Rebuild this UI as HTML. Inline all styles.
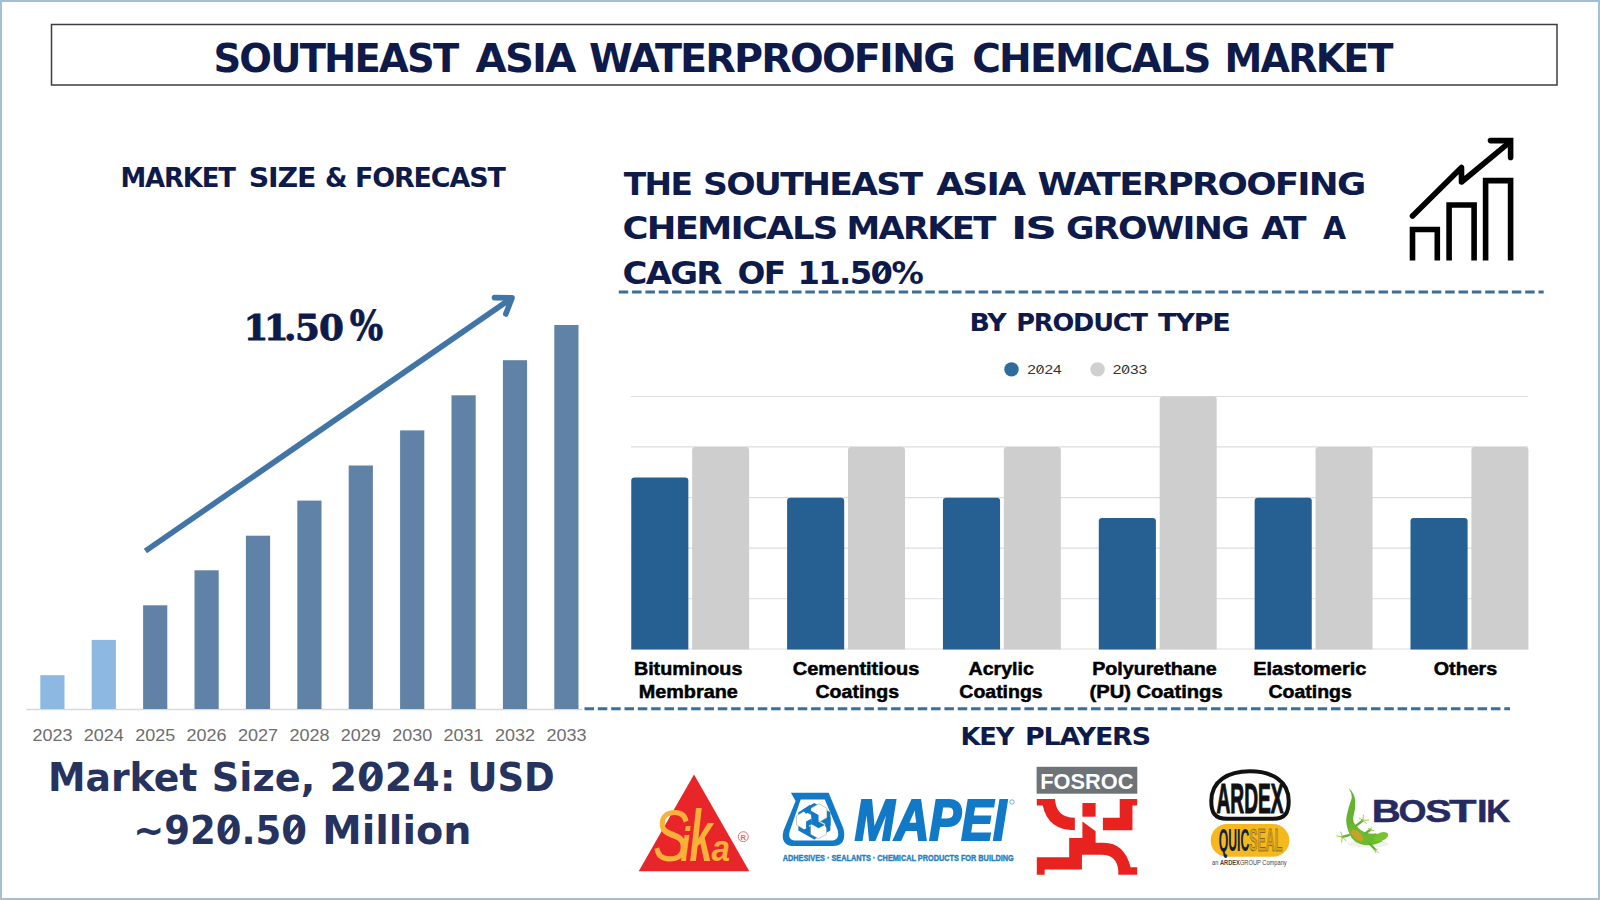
<!DOCTYPE html>
<html lang="en"><head><meta charset="utf-8"><title>Southeast Asia Waterproofing Chemicals Market</title>
<style>
html,body{margin:0;padding:0;background:#fff;}
body{width:1600px;height:900px;overflow:hidden;position:relative;font-family:"Liberation Sans",sans-serif;}
svg{display:block;position:absolute;left:0;top:0;}
</style></head><body>
<svg width="1600" height="900" viewBox="0 0 1600 900">
<rect x="0" y="0" width="1600" height="900" fill="#ffffff"/>
<rect x="1" y="1" width="1598" height="898" fill="none" stroke="#a6bfd8" stroke-width="2"/>

<rect x="51.5" y="24.5" width="1505.5" height="60.5" fill="#fff" stroke="#3a3d45" stroke-width="1.5"/>
<g font-family='"DejaVu Sans", "Liberation Sans", sans-serif' font-size="39" font-weight="bold" fill="#0e1a4a" letter-spacing="-1.8">
<text x="213.4" y="71.6" textLength="244.0" lengthAdjust="spacingAndGlyphs">SOUTHEAST</text>
<text x="475.6" y="71.6" textLength="98.83" lengthAdjust="spacingAndGlyphs">ASIA</text>
<text x="589.0" y="71.6" textLength="365.01" lengthAdjust="spacingAndGlyphs">WATERPROOFING</text>
<text x="972.2" y="71.6" textLength="237.32" lengthAdjust="spacingAndGlyphs">CHEMICALS</text>
<text x="1224.5" y="71.6" textLength="167.22" lengthAdjust="spacingAndGlyphs">MARKET</text>
</g>
<g font-family='"DejaVu Sans", "Liberation Sans", sans-serif' font-size="25.9" font-weight="bold" fill="#0e1a4a" letter-spacing="-1.1">
<text x="120.4" y="187.2" textLength="114.42" lengthAdjust="spacingAndGlyphs">MARKET</text>
<text x="248.8" y="187.2" textLength="66.36" lengthAdjust="spacingAndGlyphs">SIZE</text>
<text x="325.0" y="187.2" textLength="21.34" lengthAdjust="spacingAndGlyphs">&amp;</text>
<text x="355.0" y="187.2" textLength="149.61" lengthAdjust="spacingAndGlyphs">FORECAST</text>
</g>
<text y="339.8" font-family='"DejaVu Serif", "Liberation Serif", serif' font-size="35.8" font-weight="bold" fill="#0e1a4a" stroke="#0e1a4a" stroke-width="0.8"><tspan x="243.4">1</tspan><tspan x="263.7">1</tspan><tspan x="284.1">.</tspan><tspan x="294.9">5</tspan><tspan x="319">0</tspan></text><text x="349.8" y="339.8" font-family='"DejaVu Serif", "Liberation Serif", serif' font-size="41" font-weight="bold" fill="#0e1a4a" stroke="#0e1a4a" stroke-width="0.8" textLength="33.4" lengthAdjust="spacingAndGlyphs">%</text>
<line x1="26.5" y1="709.5" x2="582" y2="709.5" stroke="#d9d9d9" stroke-width="1.5"/>
<rect x="40.3" y="675.2" width="24.2" height="33.8" fill="#8cb8e2"/>
<text x="32.4" y="740.5" font-family='"Liberation Sans", sans-serif' font-size="17" fill="#6e6e6e" textLength="40" lengthAdjust="spacingAndGlyphs">2023</text>
<rect x="91.7" y="639.9" width="24.2" height="69.1" fill="#8cb8e2"/>
<text x="83.8" y="740.5" font-family='"Liberation Sans", sans-serif' font-size="17" fill="#6e6e6e" textLength="40" lengthAdjust="spacingAndGlyphs">2024</text>
<rect x="143.1" y="605.3" width="24.2" height="103.7" fill="#6082a6"/>
<text x="135.2" y="740.5" font-family='"Liberation Sans", sans-serif' font-size="17" fill="#6e6e6e" textLength="40" lengthAdjust="spacingAndGlyphs">2025</text>
<rect x="194.5" y="570.3" width="24.2" height="138.7" fill="#6082a6"/>
<text x="186.6" y="740.5" font-family='"Liberation Sans", sans-serif' font-size="17" fill="#6e6e6e" textLength="40" lengthAdjust="spacingAndGlyphs">2026</text>
<rect x="245.9" y="535.7" width="24.2" height="173.3" fill="#6082a6"/>
<text x="238.0" y="740.5" font-family='"Liberation Sans", sans-serif' font-size="17" fill="#6e6e6e" textLength="40" lengthAdjust="spacingAndGlyphs">2027</text>
<rect x="297.3" y="500.6" width="24.2" height="208.4" fill="#6082a6"/>
<text x="289.4" y="740.5" font-family='"Liberation Sans", sans-serif' font-size="17" fill="#6e6e6e" textLength="40" lengthAdjust="spacingAndGlyphs">2028</text>
<rect x="348.7" y="465.5" width="24.2" height="243.5" fill="#6082a6"/>
<text x="340.8" y="740.5" font-family='"Liberation Sans", sans-serif' font-size="17" fill="#6e6e6e" textLength="40" lengthAdjust="spacingAndGlyphs">2029</text>
<rect x="400.1" y="430.4" width="24.2" height="278.6" fill="#6082a6"/>
<text x="392.2" y="740.5" font-family='"Liberation Sans", sans-serif' font-size="17" fill="#6e6e6e" textLength="40" lengthAdjust="spacingAndGlyphs">2030</text>
<rect x="451.5" y="395.3" width="24.2" height="313.7" fill="#6082a6"/>
<text x="443.6" y="740.5" font-family='"Liberation Sans", sans-serif' font-size="17" fill="#6e6e6e" textLength="40" lengthAdjust="spacingAndGlyphs">2031</text>
<rect x="502.9" y="360.2" width="24.2" height="348.8" fill="#6082a6"/>
<text x="495.0" y="740.5" font-family='"Liberation Sans", sans-serif' font-size="17" fill="#6e6e6e" textLength="40" lengthAdjust="spacingAndGlyphs">2032</text>
<rect x="554.3" y="325" width="24.2" height="384" fill="#6082a6"/>
<text x="546.4" y="740.5" font-family='"Liberation Sans", sans-serif' font-size="17" fill="#6e6e6e" textLength="40" lengthAdjust="spacingAndGlyphs">2033</text>
<g stroke="#4075a6" stroke-width="5.6" fill="none"><line x1="145.4" y1="551" x2="509.5" y2="299.6"/><polyline points="494.5,297.6 512,297.9 505.8,314" stroke-linecap="round" stroke-linejoin="round"/></g>
<g font-family='"DejaVu Sans", "Liberation Sans", sans-serif' font-size="38.7" font-weight="bold" fill="#27335f">
<text x="47.9" y="791.3" textLength="149.48" lengthAdjust="spacingAndGlyphs">Market</text>
<text x="211.8" y="791.3" textLength="103.36" lengthAdjust="spacingAndGlyphs">Size,</text>
<text x="329.6" y="791.3" textLength="125.95" lengthAdjust="spacingAndGlyphs">2024:</text>
<text x="467.4" y="791.3" textLength="87.26" lengthAdjust="spacingAndGlyphs">USD</text>
</g>
<g font-family='"DejaVu Sans", "Liberation Sans", sans-serif' font-size="38.7" font-weight="bold" fill="#27335f">
<text x="133.2" y="843.5" textLength="173.92" lengthAdjust="spacingAndGlyphs">~920.50</text>
<text x="322.2" y="843.5" textLength="149.37" lengthAdjust="spacingAndGlyphs">Million</text>
</g>
<g font-family='"DejaVu Sans", "Liberation Sans", sans-serif' font-size="32.2" font-weight="bold" fill="#0e1a4a" letter-spacing="-1.6">
<text x="623.75" y="195.3" textLength="67.51" lengthAdjust="spacingAndGlyphs">THE</text>
<text x="703.0" y="195.3" textLength="218.25" lengthAdjust="spacingAndGlyphs">SOUTHEAST</text>
<text x="936.25" y="195.3" textLength="88.04" lengthAdjust="spacingAndGlyphs">ASIA</text>
<text x="1037.5" y="195.3" textLength="327.01" lengthAdjust="spacingAndGlyphs">WATERPROOFING</text>
</g>
<g font-family='"DejaVu Sans", "Liberation Sans", sans-serif' font-size="32.2" font-weight="bold" fill="#0e1a4a" letter-spacing="-1.6">
<text x="622.5" y="239.05" textLength="214.01" lengthAdjust="spacingAndGlyphs">CHEMICALS</text>
<text x="846.5" y="239.05" textLength="148.01" lengthAdjust="spacingAndGlyphs">MARKET</text>
<text x="1011.0" y="239.05" textLength="43.75" lengthAdjust="spacingAndGlyphs">IS</text>
<text x="1066.0" y="239.05" textLength="182.01" lengthAdjust="spacingAndGlyphs">GROWING</text>
<text x="1261.25" y="239.05" textLength="43.61" lengthAdjust="spacingAndGlyphs">AT</text>
<text x="1323.0" y="239.05" textLength="21.62" lengthAdjust="spacingAndGlyphs">A</text>
</g>
<g font-family='"DejaVu Sans", "Liberation Sans", sans-serif' font-size="32.2" font-weight="bold" fill="#0e1a4a" letter-spacing="-1.6">
<text x="622.5" y="283.55" textLength="98.25" lengthAdjust="spacingAndGlyphs">CAGR</text>
<text x="737.5" y="283.55" textLength="47.05" lengthAdjust="spacingAndGlyphs">OF</text>
<text x="797.5" y="283.55" textLength="124.56" lengthAdjust="spacingAndGlyphs">11.50%</text>
</g>
<g fill="none" stroke="#000" stroke-width="5.6">
<polyline points="1412.5,260.5 1412.5,229.5 1437.3,229.5 1437.3,260.5"/>
<polyline points="1449.1,260.5 1449.1,205 1474.1,205 1474.1,260.5"/>
<polyline points="1485.6,260.5 1485.6,180.6 1510.6,180.6 1510.6,260.5"/>
<polyline points="1412.5,216 1461.5,167.5 1461.5,182 1510,141.8" stroke-linecap="round" stroke-linejoin="round"/>
<polyline points="1490.5,140.6 1510.6,140.6 1510.6,157.4" stroke-linecap="round" stroke-linejoin="miter"/>
</g>
<line x1="618.75" y1="292" x2="1543.7" y2="292" stroke="#3a6f9c" stroke-width="3" stroke-dasharray="9.5 3.83"/>
<line x1="584.5" y1="708.8" x2="1510" y2="708.8" stroke="#3a6f9c" stroke-width="3" stroke-dasharray="9.5 3.83"/>
<g font-family='"DejaVu Sans", "Liberation Sans", sans-serif' font-size="24.6" font-weight="bold" fill="#0e1a4a" letter-spacing="-1.1">
<text x="969.4" y="331" textLength="35.99" lengthAdjust="spacingAndGlyphs">BY</text>
<text x="1016.2" y="331" textLength="130.6" lengthAdjust="spacingAndGlyphs">PRODUCT</text>
<text x="1158.0" y="331" textLength="71.61" lengthAdjust="spacingAndGlyphs">TYPE</text>
</g>
<circle cx="1011.5" cy="369.4" r="7.2" fill="#2e6ca0"/><circle cx="1097.6" cy="369.4" r="7.2" fill="#d0d0d0"/>
<text x="1027.25" y="374" font-family='"Liberation Sans", sans-serif' font-size="13" font-weight="normal" fill="#333" text-anchor="start" textLength="34.3" lengthAdjust="spacingAndGlyphs">2024</text>
<text x="1112.75" y="374" font-family='"Liberation Sans", sans-serif' font-size="13" font-weight="normal" fill="#333" text-anchor="start" textLength="34.5" lengthAdjust="spacingAndGlyphs">2033</text>
<line x1="631" y1="396.5" x2="1528" y2="396.5" stroke="#dddddd" stroke-width="1.2"/>
<line x1="631" y1="446.9" x2="1528" y2="446.9" stroke="#dddddd" stroke-width="1.2"/>
<line x1="631" y1="497.6" x2="1528" y2="497.6" stroke="#dddddd" stroke-width="1.2"/>
<line x1="631" y1="548.1" x2="1528" y2="548.1" stroke="#dddddd" stroke-width="1.2"/>
<line x1="631" y1="598.75" x2="1528" y2="598.75" stroke="#dddddd" stroke-width="1.2"/>
<line x1="631" y1="649" x2="1528" y2="649" stroke="#dddddd" stroke-width="1.2"/>
<path d="M631.25,649.5 V480.7 Q631.25,477.5 634.45,477.5 H685.15 Q688.35,477.5 688.35,480.7 V649.5 Z" fill="#265f92"/>
<path d="M692.15,649.5 V450.3 Q692.15,447.1 695.35,447.1 H745.95 Q749.15,447.1 749.15,450.3 V649.5 Z" fill="#cecece"/>
<path d="M787.1,649.5 V500.95 Q787.1,497.75 790.3000000000001,497.75 H841.0 Q844.2,497.75 844.2,500.95 V649.5 Z" fill="#265f92"/>
<path d="M848.0,649.5 V450.3 Q848.0,447.1 851.2,447.1 H901.8 Q905.0,447.1 905.0,450.3 V649.5 Z" fill="#cecece"/>
<path d="M942.95,649.5 V500.95 Q942.95,497.75 946.1500000000001,497.75 H996.85 Q1000.05,497.75 1000.05,500.95 V649.5 Z" fill="#265f92"/>
<path d="M1003.85,649.5 V450.3 Q1003.85,447.1 1007.0500000000001,447.1 H1057.65 Q1060.85,447.1 1060.85,450.3 V649.5 Z" fill="#cecece"/>
<path d="M1098.8,649.5 V521.2 Q1098.8,518 1102.0,518 H1152.7 Q1155.9,518 1155.9,521.2 V649.5 Z" fill="#265f92"/>
<path d="M1159.7,649.5 V399.7 Q1159.7,396.5 1162.9,396.5 H1213.5 Q1216.7,396.5 1216.7,399.7 V649.5 Z" fill="#cecece"/>
<path d="M1254.65,649.5 V500.95 Q1254.65,497.75 1257.8500000000001,497.75 H1308.55 Q1311.75,497.75 1311.75,500.95 V649.5 Z" fill="#265f92"/>
<path d="M1315.55,649.5 V450.3 Q1315.55,447.1 1318.75,447.1 H1369.35 Q1372.55,447.1 1372.55,450.3 V649.5 Z" fill="#cecece"/>
<path d="M1410.5,649.5 V521.2 Q1410.5,518 1413.7,518 H1464.4 Q1467.6,518 1467.6,521.2 V649.5 Z" fill="#265f92"/>
<path d="M1471.4,649.5 V450.3 Q1471.4,447.1 1474.6000000000001,447.1 H1525.2 Q1528.4,447.1 1528.4,450.3 V649.5 Z" fill="#cecece"/>
<g font-family='"Liberation Sans", sans-serif' font-size="18.5" font-weight="bold" fill="#000" stroke="#000" stroke-width="0.5">
<text x="633.9" y="674.6" textLength="108.51" lengthAdjust="spacingAndGlyphs">Bituminous</text>
</g>
<g font-family='"Liberation Sans", sans-serif' font-size="18.5" font-weight="bold" fill="#000" stroke="#000" stroke-width="0.5">
<text x="638.7" y="698.2" textLength="99.2" lengthAdjust="spacingAndGlyphs">Membrane</text>
</g>
<g font-family='"Liberation Sans", sans-serif' font-size="18.5" font-weight="bold" fill="#000" stroke="#000" stroke-width="0.5">
<text x="792.8" y="674.6" textLength="126.5" lengthAdjust="spacingAndGlyphs">Cementitious</text>
</g>
<g font-family='"Liberation Sans", sans-serif' font-size="18.5" font-weight="bold" fill="#000" stroke="#000" stroke-width="0.5">
<text x="815.5" y="698.2" textLength="83.61" lengthAdjust="spacingAndGlyphs">Coatings</text>
</g>
<g font-family='"Liberation Sans", sans-serif' font-size="18.5" font-weight="bold" fill="#000" stroke="#000" stroke-width="0.5">
<text x="968.5" y="674.6" textLength="65.41" lengthAdjust="spacingAndGlyphs">Acrylic</text>
</g>
<g font-family='"Liberation Sans", sans-serif' font-size="18.5" font-weight="bold" fill="#000" stroke="#000" stroke-width="0.5">
<text x="959.3" y="698.2" textLength="83.4" lengthAdjust="spacingAndGlyphs">Coatings</text>
</g>
<g font-family='"Liberation Sans", sans-serif' font-size="18.5" font-weight="bold" fill="#000" stroke="#000" stroke-width="0.5">
<text x="1092.2" y="674.6" textLength="124.5" lengthAdjust="spacingAndGlyphs">Polyurethane</text>
</g>
<g font-family='"Liberation Sans", sans-serif' font-size="18.5" font-weight="bold" fill="#000" stroke="#000" stroke-width="0.5">
<text x="1089.6" y="698.2" textLength="133.01" lengthAdjust="spacingAndGlyphs">(PU) Coatings</text>
</g>
<g font-family='"Liberation Sans", sans-serif' font-size="18.5" font-weight="bold" fill="#000" stroke="#000" stroke-width="0.5">
<text x="1253.2" y="674.6" textLength="113.21" lengthAdjust="spacingAndGlyphs">Elastomeric</text>
</g>
<g font-family='"Liberation Sans", sans-serif' font-size="18.5" font-weight="bold" fill="#000" stroke="#000" stroke-width="0.5">
<text x="1268.5" y="698.2" textLength="83.3" lengthAdjust="spacingAndGlyphs">Coatings</text>
</g>
<g font-family='"Liberation Sans", sans-serif' font-size="18.5" font-weight="bold" fill="#000" stroke="#000" stroke-width="0.5">
<text x="1433.8" y="674.6" textLength="63.4" lengthAdjust="spacingAndGlyphs">Others</text>
</g>
<g font-family='"DejaVu Sans", "Liberation Sans", sans-serif' font-size="25.3" font-weight="bold" fill="#0e1a4a" letter-spacing="-1.1">
<text x="960.4" y="744.9" textLength="52.94" lengthAdjust="spacingAndGlyphs">KEY</text>
<text x="1025.0" y="744.9" textLength="124.85" lengthAdjust="spacingAndGlyphs">PLAYERS</text>
</g>
<line x1="365.7" y1="783.8" x2="376.1" y2="770.6" stroke="#27335f" stroke-width="3" stroke-linecap="round"/>
<line x1="223.4" y1="836.0" x2="233.8" y2="822.8" stroke="#27335f" stroke-width="3" stroke-linecap="round"/>
<line x1="288.9" y1="836.0" x2="299.3" y2="822.8" stroke="#27335f" stroke-width="3" stroke-linecap="round"/>
<line x1="877.2" y1="277.4" x2="885.6" y2="266.3" stroke="#0e1a4a" stroke-width="2.4" stroke-linecap="round"/>
<line x1="1038.6" y1="371.8" x2="1041.6" y2="366.9" stroke="#333" stroke-width="1" stroke-linecap="round"/>
<line x1="1124.2" y1="371.8" x2="1127.2" y2="366.9" stroke="#333" stroke-width="1" stroke-linecap="round"/>
<!-- Sika -->
<g id="sika">
<polygon points="694,774.4 638.7,871.3 749.3,871.3" fill="#e8262a"/>
<g font-family='"Liberation Sans", sans-serif' font-style="italic" fill="#fbb03b">
<text x="653" y="861.3" font-size="72" textLength="36" lengthAdjust="spacingAndGlyphs">S</text>
<text x="680.5" y="861.3" font-size="48" font-weight="bold" textLength="9.5" lengthAdjust="spacingAndGlyphs">i</text>
<text x="689.5" y="861.3" font-size="72" font-weight="bold" textLength="23" lengthAdjust="spacingAndGlyphs">k</text>
<text x="711.5" y="861.3" font-size="36" font-weight="bold" textLength="18.5" lengthAdjust="spacingAndGlyphs">a</text>
</g>
<circle cx="743.3" cy="836.7" r="5" fill="none" stroke="#e0676a" stroke-width="0.9"/>
<text x="743.3" y="839.6" font-family='"Liberation Sans", sans-serif' font-size="7.5" font-weight="bold" fill="#e0676a" text-anchor="middle">R</text>
</g>
<!-- Mapei -->
<g id="mapei">
<g transform="translate(775,785) scale(0.07776)">
<path fill-rule="evenodd" fill="#1279c6" d="M205,100 L690,100 L880,560 Q930,785 740,785 L250,785 Q65,785 108,590 L265,205 Z M330,185 L640,185 L805,575 Q840,715 715,715 L275,715 Q155,715 190,590 Z"/>
<polygon points="505,232 712,350 712,585 505,700 300,585 300,350" fill="#1279c6"/>
<polygon points="565,240 668,300 668,420 565,480 462,420 462,300" fill="#fff" stroke="#8c8c66" stroke-width="6"/>
<polygon points="380,335 483,395 483,515 380,575 277,515 277,395" fill="#fff" stroke="#8c8c66" stroke-width="6"/>
<polygon points="560,452 663,512 663,632 560,692 457,632 457,512" fill="#fff" stroke="#8c8c66" stroke-width="6"/>
<path d="M462,330 L560,385 L560,470 L640,515 L560,555 L470,505 L470,430 L400,470 L400,560 L340,590 L440,660 L440,520 L470,505 M350,320 L450,255 L462,330 L400,370 Z M640,515 L715,405 L715,520 L663,560 Z" fill="#1279c6"/>
</g>
<text x="854.8" y="840.3" textLength="151.6" lengthAdjust="spacingAndGlyphs" font-family='"Liberation Sans", sans-serif' font-size="56.8" font-style="italic" font-weight="bold" fill="#1279c6" stroke="#1279c6" stroke-width="2.2">MAPEI</text>
<text x="782.7" y="860.6" textLength="231" lengthAdjust="spacingAndGlyphs" font-family='"Liberation Sans", sans-serif' font-size="8.8" font-weight="bold" fill="#2a7fc0" stroke="#2a7fc0" stroke-width="0.4">ADHESIVES · SEALANTS · CHEMICAL PRODUCTS FOR BUILDING</text>
<circle cx="1012" cy="802" r="2.2" fill="none" stroke="#1279c6" stroke-width="0.6"/>
</g>
<!-- Fosroc -->
<g id="fosroc">
<rect x="1036.6" y="766.8" width="100.7" height="26.9" fill="#6d7377"/>
<text x="1040.2" y="788.5" textLength="93.2" lengthAdjust="spacingAndGlyphs" font-family='"Liberation Sans", sans-serif' font-size="22.6" font-weight="bold" fill="#fff">FOSROC</text>
<g transform="translate(1030,795) scale(0.09443)" fill="#e8231f">
<path d="M72,42 H265 Q275,240 475,240 V372 Q190,372 135,110 H72 Z"/>
<rect x="555" y="85" width="140" height="145"/>
<polygon points="950,42 1135,42 1135,110 1085,110 1085,372 772,372 772,240 950,240"/>
<path d="M555,280 L695,385 V505 H780 Q1000,505 1065,765 H1135 V845 H935 V800 Q920,632 760,632 H550 V790 H155 V845 H72 V660 H415 V455 H555 Z"/>
</g>
</g>
<!-- Ardex -->
<g id="ardex">
<path d="M1227,818.7 C1214,818.7 1211.3,812 1211.3,801 C1211.3,781 1228,771.3 1250,771.3 C1272,771.3 1288.7,781 1288.7,801 C1288.7,812 1286,818.7 1273,818.7 Z" fill="#fff" stroke="#111" stroke-width="4"/>
<text x="1216.5" y="813.3" textLength="67" lengthAdjust="spacingAndGlyphs" font-family='"Liberation Sans", sans-serif' font-size="42" font-weight="bold" fill="#111" stroke="#111" stroke-width="1.2">ARDEX</text>
<rect x="1210.7" y="824" width="78.6" height="32.7" rx="16.3" ry="16.3" fill="#f5b81f"/>
<text x="1218.7" y="851.3" font-family='"Liberation Sans", sans-serif' font-size="31" font-weight="bold"><tspan fill="#14213d" textLength="30.5" lengthAdjust="spacingAndGlyphs">QUIC</tspan><tspan fill="#d9a21c" stroke="#3a3320" stroke-width="0.5" textLength="33" lengthAdjust="spacingAndGlyphs">SEAL</tspan></text>
<text x="1212" y="865.3" textLength="74.7" lengthAdjust="spacingAndGlyphs" font-family='"Liberation Sans", sans-serif' font-size="6.5" fill="#444">an <tspan font-weight="bold">ARDEX</tspan>GROUP Company</text>
</g>
<!-- Bostik -->
<g id="bostik">
<g font-family='"Liberation Sans", sans-serif' font-size="31.5" font-weight="bold" fill="#262a60" stroke="#262a60" stroke-width="0.5"><text x="1371.81" y="822.4" textLength="29.01" lengthAdjust="spacingAndGlyphs">B</text><text x="1398.52" y="822.4" textLength="27.99" lengthAdjust="spacingAndGlyphs">O</text><text x="1425.37" y="822.4" textLength="26.16" lengthAdjust="spacingAndGlyphs">S</text><text x="1448.99" y="822.4" textLength="27.49" lengthAdjust="spacingAndGlyphs">T</text><text x="1476.95" y="822.4" textLength="10.61" lengthAdjust="spacingAndGlyphs">I</text><text x="1486.27" y="822.4" textLength="24.04" lengthAdjust="spacingAndGlyphs">K</text></g>
<g transform="translate(1330,780) scale(0.0888)">
<ellipse cx="430" cy="720" rx="230" ry="40" fill="#e9e9e6" opacity="0.7"/>
<path d="M210,90 Q275,150 285,230 Q290,320 262,420 Q250,470 300,520 L215,590 Q170,500 188,400 Q210,300 246,200 Q245,140 210,90 Z" fill="#64b22f"/>
<path d="M200,520 Q250,450 320,540 Q400,620 520,600 L590,690 Q460,760 340,720 Q215,680 200,520 Z" fill="#6cbb2e"/>
<ellipse cx="305" cy="625" rx="85" ry="40" transform="rotate(42 305 625)" fill="#c9a12c"/>
<ellipse cx="575" cy="640" rx="85" ry="46" transform="rotate(-22 575 640)" fill="#79c230"/>
<g stroke="#62b02e" stroke-width="26" stroke-linecap="round" fill="none">
<path d="M290,520 L370,455"/><path d="M215,620 L140,640"/><path d="M400,600 L455,560"/><path d="M445,715 L510,785"/>
</g>
<g stroke="#9bc94a" stroke-width="11" stroke-linecap="round" fill="none">
<path d="M370,455 L330,430 M370,455 L375,395 M370,455 L435,450 M370,455 L410,490"/>
<path d="M140,640 L75,630 M140,640 L120,585 M140,640 L130,700 M140,640 L180,685"/>
<path d="M455,560 L430,545 M455,560 L468,538 M455,560 L492,570"/>
<path d="M510,785 L532,780 M510,785 L545,822 M510,785 L512,815"/>
</g>
</g>
</g>

</svg></body></html>
